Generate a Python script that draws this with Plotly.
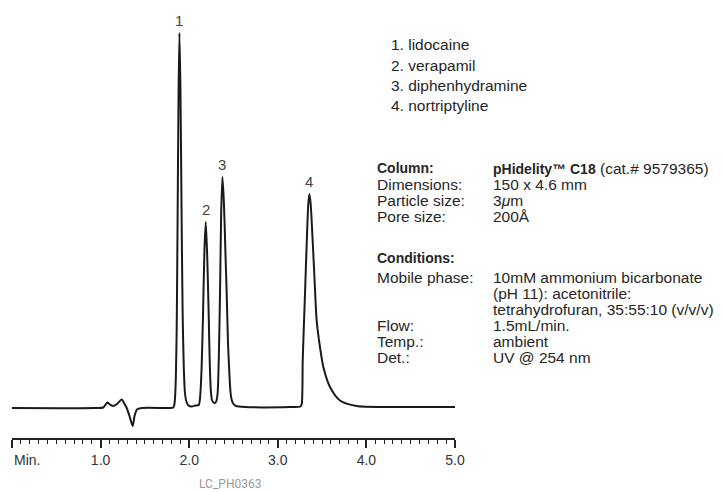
import plotly.graph_objects as go

# ---------------- data ----------------
time_min = [
    0.000, 0.940, 1.030, 1.076, 1.106, 1.143, 1.185, 1.238, 1.270, 1.295, 1.326, 1.362, 1.383, 1.411, 1.467,
    1.780, 1.820, 1.832, 1.840, 1.849, 1.859, 1.869, 1.880, 1.890, 1.901, 1.914, 1.926, 1.939, 1.953, 1.970, 1.992, 2.028, 2.071,
    2.108, 2.124, 2.140, 2.156, 2.172, 2.187, 2.204, 2.220, 2.232, 2.244, 2.257, 2.274, 2.291,
    2.307, 2.321, 2.334, 2.348, 2.361, 2.375, 2.392, 2.409, 2.423, 2.438, 2.453, 2.466, 2.480, 2.500, 2.528, 2.630,
    3.140, 3.255, 3.270, 3.281, 3.296, 3.307, 3.326, 3.344, 3.356, 3.370, 3.392, 3.415, 3.439, 3.476, 3.514, 3.589, 3.702, 3.890, 4.266, 5.000,
]
signal = [
    0, 0, 0.5, 5.5, 3.5, 2, 4, 8.5, 4, 0, -8, -18, -8, -1.5, 0,
    0, 0.5, 3, 10, 30, 80, 188, 315, 375, 320, 195, 95, 40, 14, 6, 2.5, 1.5, 2.5,
    3, 12, 40, 93, 158, 186, 150, 93, 45, 18, 8, 5.5, 5,
    7, 15, 50, 115, 195, 231, 205, 155, 115, 65, 35, 16, 8, 4, 2, 1,
    1, 1.5, 4, 47, 87, 114, 164, 204, 214, 205, 170, 128, 87, 61, 41, 21, 7.5, 2, 1, 1,
]

peak_ids = ["1", "2", "3", "4"]
peak_times = [1.890, 2.187, 2.375, 3.356]
peak_heights = [375, 186, 231, 214]

compounds = ["1. lidocaine", "2. verapamil", "3. diphenhydramine", "4. nortriptyline"]

tick_values = [0, 1, 2, 3, 4, 5]
tick_labels = ["", "1.0", "2.0", "3.0", "4.0", "5.0"]
axis_unit = "Min."
figure_code = "LC_PH0363"

BOLD = "<span style='font-size:14px'><b>{}</b></span>"
column_keys = [BOLD.format("Column:"), "Dimensions:", "Particle size:", "Pore size:"]
column_vals = [BOLD.format("pHidelity™ C18") + " (cat.# 9579365)", "150 x 4.6 mm", "3<i>μ</i>m", "200Å"]
cond_title = BOLD.format("Conditions:")
cond_keys = ["Mobile phase:", "", "", "Flow:", "Temp.:", "Det.:"]
cond_vals = ["10mM ammonium bicarbonate", "(pH 11): acetonitrile:",
             "tetrahydrofuran, 35:55:10 (v/v/v)", "1.5mL/min.", "ambient", "UV @ 254 nm"]

# ---------------- figure ----------------
FONT = "Liberation Sans, Arial, sans-serif"
TXT = "#262626"
W, H = 724, 492
ML, MR, MT, MB = 12, 269, 10, 54
PW, PH = W - ML - MR, H - MT - MB


def px_x(px):
    return (px - ML) / PW


def px_y(py):
    return (H - MB - py) / PH


fig = go.Figure()
fig.add_trace(go.Scatter(
    x=time_min, y=signal, mode="lines",
    line=dict(color="#1a1a1a", width=2, shape="spline", smoothing=0.7),
    hoverinfo="skip", showlegend=False,
))

# peak labels
for pid, t, h in zip(peak_ids, peak_times, peak_heights):
    fig.add_annotation(x=t, y=h, text=pid, showarrow=False, xanchor="center",
                       yanchor="bottom", yshift=2,
                       font=dict(family=FONT, size=15, color="#444"))

note_style = dict(xref="paper", yref="paper", showarrow=False, xanchor="left",
                  yanchor="middle")
TF = dict(family=FONT, size=15.5, color=TXT)

# compound list
for i, c in enumerate(compounds):
    fig.add_annotation(x=px_x(389), y=px_y(45 + i * 20), text=c, font=TF, **note_style)

# column block
for i, (k, v) in enumerate(zip(column_keys, column_vals)):
    y = px_y(168 + i * 16)
    fig.add_annotation(x=px_x(375), y=y, text=k, font=TF, **note_style)
    fig.add_annotation(x=px_x(491), y=y, text=v, font=TF, **note_style)

fig.add_annotation(x=px_x(375), y=px_y(258), text=cond_title, font=TF, **note_style)
for i, (k, v) in enumerate(zip(cond_keys, cond_vals)):
    y = px_y(277 + i * 16)
    if k:
        fig.add_annotation(x=px_x(375), y=y, text=k, font=TF, **note_style)
    fig.add_annotation(x=px_x(491), y=y, text=v, font=TF, **note_style)

# axis unit label and figure code
fig.add_annotation(x=0, xref="x", y=px_y(460), yref="paper", text=axis_unit,
                   showarrow=False, xanchor="left", yanchor="middle",
                   font=dict(family=FONT, size=14, color="#333"))
fig.add_annotation(x=px_x(230), y=px_y(484), text=figure_code, xref="paper", yref="paper",
                   showarrow=False, xanchor="center", yanchor="middle",
                   font=dict(family="Liberation Sans Narrow, Roboto, sans-serif", size=12, color="#999"))

fig.update_layout(
    width=W, height=H, autosize=False,
    margin=dict(l=ML, r=MR, t=MT, b=MB),
    paper_bgcolor="white", plot_bgcolor="white",
    showlegend=False,
    xaxis=dict(
        range=[0, 5], showgrid=False, zeroline=False,
        showline=True, linecolor="#222", linewidth=1.5,
        ticks="outside", ticklen=8, tickwidth=1.5, tickcolor="#222",
        tickvals=tick_values, ticktext=tick_labels,
        tickfont=dict(family=FONT, size=14, color="#333"),
        minor=dict(dtick=0.1, tick0=0, ticks="outside", ticklen=4,
                   tickwidth=1.2, tickcolor="#222"),
    ),
    yaxis=dict(range=[-30, 398], visible=False),
)

fig.write_html("out.html",
               config={"displayModeBar": False},
               post_script="document.body.style.margin='0';document.body.style.overflow='hidden';")
